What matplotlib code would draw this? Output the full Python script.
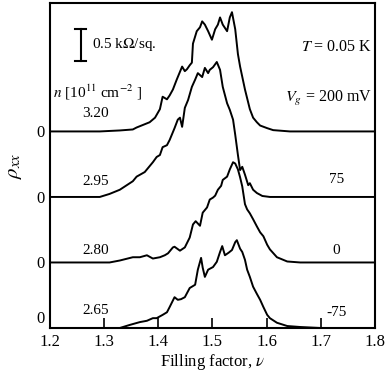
import numpy as np
import matplotlib
matplotlib.use("Agg")
import matplotlib.pyplot as plt

plt.rcParams['font.family'] = 'Liberation Serif'
plt.rcParams['mathtext.fontset'] = 'stix'

# filling factor nu and rho_xx (kOhm/sq) for each density
nu_320 = [1.200, 1.292, 1.329, 1.353, 1.360, 1.375, 1.384, 1.394, 1.403, 1.408, 1.416, 1.421,
          1.427, 1.434, 1.444, 1.449, 1.453, 1.458, 1.462, 1.464, 1.471, 1.477, 1.481, 1.486,
          1.492, 1.499, 1.505, 1.510, 1.514, 1.519, 1.527, 1.532, 1.536, 1.542, 1.547, 1.551,
          1.560, 1.566, 1.569, 1.575, 1.582, 1.588, 1.601, 1.612, 1.643, 1.800]
rho_320 = [0.00, 0.00, 0.015, 0.03, 0.06, 0.11, 0.14, 0.21, 0.34, 0.53, 0.49, 0.55,
           0.64, 0.79, 0.99, 0.92, 0.95, 1.01, 1.05, 1.34, 1.53, 1.59, 1.68, 1.63,
           1.53, 1.40, 1.56, 1.63, 1.74, 1.63, 1.53, 1.74, 1.82, 1.56, 1.18, 0.99,
           0.64, 0.44, 0.34, 0.21, 0.14, 0.09, 0.05, 0.02, 0.00, 0.00]

nu_295 = [1.200, 1.292, 1.310, 1.329, 1.353, 1.360, 1.375, 1.390, 1.397, 1.403, 1.408, 1.416,
          1.421, 1.430, 1.436, 1.440, 1.444, 1.449, 1.455, 1.462, 1.468, 1.473, 1.481, 1.486,
          1.492, 1.495, 1.501, 1.508, 1.514, 1.519, 1.527, 1.532, 1.538, 1.542, 1.547, 1.551,
          1.555, 1.560, 1.566, 1.569, 1.575, 1.582, 1.592, 1.606, 1.800]
rho_295 = [0.00, 0.00, 0.046, 0.11, 0.24, 0.31, 0.38, 0.53, 0.61, 0.64, 0.76, 0.79,
           0.87, 1.05, 1.18, 1.21, 1.07, 1.36, 1.48, 1.68, 1.79, 1.89, 1.83, 1.97,
           1.89, 1.94, 1.98, 2.06, 1.94, 1.68, 1.43, 1.33, 1.18, 0.95, 0.64, 0.41,
           0.46, 0.34, 0.18, 0.21, 0.11, 0.06, 0.015, 0.00, 0.00]

nu_280 = [1.200, 1.310, 1.329, 1.353, 1.366, 1.379, 1.390, 1.403, 1.412, 1.418, 1.427, 1.430,
          1.440, 1.449, 1.458, 1.464, 1.469, 1.477, 1.482, 1.490, 1.495, 1.501, 1.505, 1.510,
          1.516, 1.519, 1.527, 1.532, 1.538, 1.542, 1.547, 1.551, 1.555, 1.560, 1.564, 1.569,
          1.575, 1.582, 1.588, 1.594, 1.601, 1.606, 1.619, 1.638, 1.662, 1.800]
rho_280 = [0.00, 0.00, 0.03, 0.08, 0.08, 0.11, 0.06, 0.08, 0.11, 0.14, 0.23, 0.24,
           0.18, 0.23, 0.38, 0.58, 0.63, 0.56, 0.76, 0.84, 0.96, 0.99, 1.02, 1.11,
           1.17, 1.26, 1.31, 1.42, 1.53, 1.51, 1.42, 1.30, 1.16, 0.89, 0.81, 0.75,
           0.66, 0.55, 0.46, 0.40, 0.27, 0.20, 0.08, 0.015, 0.00, 0.00]

nu_265 = [1.200, 1.329, 1.347, 1.366, 1.379, 1.390, 1.397, 1.408, 1.416, 1.421, 1.430, 1.436,
          1.442, 1.449, 1.458, 1.468, 1.473, 1.479, 1.482, 1.486, 1.492, 1.501, 1.508, 1.514,
          1.518, 1.523, 1.530, 1.536, 1.542, 1.545, 1.551, 1.555, 1.560, 1.564, 1.569, 1.575,
          1.582, 1.588, 1.594, 1.601, 1.606, 1.619, 1.638, 1.662, 1.699, 1.800]
rho_265 = [0.00, 0.00, 0.046, 0.09, 0.11, 0.15, 0.15, 0.20, 0.24, 0.32, 0.47, 0.43,
           0.44, 0.47, 0.61, 0.66, 0.89, 1.07, 0.92, 0.78, 0.89, 0.93, 1.01, 1.16,
           1.25, 1.11, 1.15, 1.19, 1.31, 1.34, 1.21, 1.16, 1.04, 0.89, 0.78, 0.63,
           0.52, 0.43, 0.32, 0.20, 0.15, 0.08, 0.03, 0.015, 0.00, 0.00]

densities = ['3.20', '2.95', '2.80', '2.65']
gate_labels = ['', '75', '0', '-75']
offsets = [3, 2, 1, 0]   # each trace shifted by 1 kOhm
curves = [(nu_320, rho_320), (nu_295, rho_295), (nu_280, rho_280), (nu_265, rho_265)]

fig = plt.figure(figsize=(3.87, 3.77), dpi=100)
ax = fig.add_axes([0.129, 0.130, 0.840, 0.862])

for (nu, rho), off in zip(curves, offsets):
    ax.plot(nu, np.array(rho) + off, color='black', lw=1.4)

ax.set_xlim(1.2, 1.8)
ax.set_ylim(0, 4.96)
ax.set_xticks([1.2, 1.3, 1.4, 1.5, 1.6, 1.7, 1.8])
ax.set_xticklabels(['1.2', '1.3', '1.4', '1.5', '1.6', '1.7', '1.8'])
ax.set_yticks(offsets[:3])
ax.set_yticklabels(['0'] * 3)
ax.tick_params(axis='x', direction='in', length=7, width=1.2, labelsize=12, pad=4)
ax.tick_params(axis='y', length=0, labelsize=12, pad=4)
for s in ax.spines.values():
    s.set_linewidth(1.5)

# bottom zero sits a little above the corner, as in the original
ax.annotate('0', xy=(0, 0), xycoords='axes fraction', xytext=(-4, 6.5),
            textcoords='offset points', ha='right', va='center', fontsize=12)

ax.set_xlabel(r'Filling factor, $\nu$', fontsize=12, labelpad=2)
ax.set_ylabel(r'$\rho_{xx}$', fontsize=15, labelpad=9)

# scale bar
bx = 1.2565
ax.plot([bx, bx], [4.07, 4.57], color='black', lw=1.5)
ax.plot([bx - 0.011, bx + 0.011], [4.07, 4.07], color='black', lw=1.5)
ax.plot([bx - 0.011, bx + 0.011], [4.57, 4.57], color='black', lw=1.5)
ax.text(1.277, 4.32, r'0.5 k$\Omega$/sq.', fontsize=11, va='center', ha='left')

ax.text(1.2065, 3.59, r'$n$ [10$^{11}$ cm$^{-2}$ ]', fontsize=11, va='center', ha='left')

lab_y = [3.28, 2.24, 1.18, 0.26]
for lab, y in zip(densities, lab_y):
    ax.text(1.285, y, lab, fontsize=11, ha='center', va='center')

ax.text(1.795, 4.29, r'$T$ = 0.05 K', fontsize=11.5, ha='right', va='center')
ax.text(1.795, 3.50, r'$V_g$ = 200 mV', fontsize=11.5, ha='right', va='center')
gate_y = [None, 2.26, 1.18, 0.24]
for lab, y in zip(gate_labels, gate_y):
    if lab:
        ax.text(1.729, y, lab, fontsize=11, ha='center', va='center')

fig.savefig('out.png', dpi=100)
